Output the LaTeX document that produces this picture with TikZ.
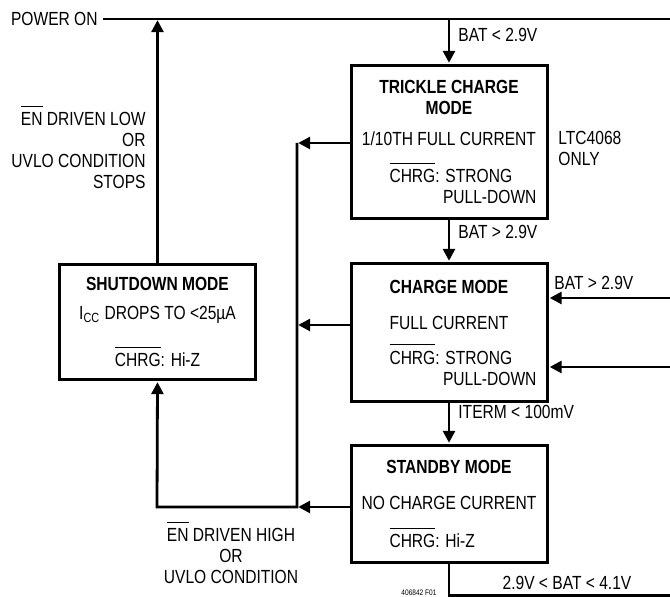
\documentclass[tikz,border=0pt]{standalone}
\usepackage{fontspec}
\setmainfont{Liberation Sans}[FakeStretch=0.82]
\usetikzlibrary{arrows.meta}
\newsavebox{\ovlbox}
\newcommand{\ovl}[1]{\leavevmode\sbox{\ovlbox}{#1}\rlap{\rule[\dimexpr\ht\ovlbox+2.8pt\relax]{\wd\ovlbox}{0.5pt}}\usebox{\ovlbox}}
\newcommand{\chrg}{\ovl{CHRG}}
\newcommand{\chrgline}[2]{\hspace*{14pt}\parbox[t]{73.5pt}{\raggedright\chrg: #1\\\hspace*{\fill}#2}}
\begin{document}
\begin{tikzpicture}[x=.5pt,y=.5pt,line width=1.4pt,font=\fontsize{9.5}{10.5}\selectfont,
  modebox/.style={draw,line width=1.5pt,inner sep=0pt,align=center,minimum width=98pt},
  lbl/.style={inner sep=0pt},
  arr/.style={-{Triangle[length=6pt,width=6pt]},shorten >=.6pt}]
\useasboundingbox (0,0) rectangle (670,597);
% mode boxes
\node[modebox,minimum height=76.5pt] (trickle) at (449,455) {\textbf{TRICKLE CHARGE}\\\textbf{MODE}\\[5pt]1/10TH FULL CURRENT\\[8pt]\chrgline{STRONG}{PULL-DOWN}};
\node[modebox,minimum height=69pt] (charge) at (449,264.5) {\textbf{CHARGE MODE}\\[7.5pt]FULL CURRENT\\[7pt]\chrgline{STRONG}{PULL-DOWN}};
\node[modebox,minimum height=58.5pt] (standby) at (449,93) {\textbf{STANDBY MODE}\\[7.5pt]NO CHARGE CURRENT\\[8.5pt]\hspace*{14pt}\parbox[t]{73.5pt}{\chrg: Hi-Z}};
\node[modebox,minimum height=57.5pt] (shut) at (157.5,275) {\textbf{SHUTDOWN MODE}\\[4pt]I\textsubscript{CC} DROPS TO <25µA\\[11pt]\chrg: Hi-Z};
% points on the wires
\coordinate (pL) at (103,578);\coordinate (pR) at (670,578);
\coordinate (bT) at (297,454);\coordinate (bM) at (297,272);\coordinate (bB) at (297,90);\coordinate (bC) at (157,90);
\coordinate (bot) at (450,1.5);\coordinate (botR) at (670,1.5);
\coordinate (rA) at (670,299);\coordinate (rB) at (670,230);
\draw (pL)--(pR);
\draw[arr] (trickle.north |- pR)--(trickle.north);
\draw[arr] (trickle.south)--(charge.north);
\draw[arr] (charge.south)--(standby.north);
\draw (standby.south)--(standby.south |- bot)--(botR);
\draw[arr] (trickle.west |- bT)--(bT);
\draw[arr] (charge.west |- bM)--(bM);
\draw[arr] (standby.west |- bB)--(bB);
\draw[arr] (bT)--(bB)--(bC)--(shut.south);
\draw[arr] (shut.north)--(shut.north |- pL);
\draw[arr] (rA)--(charge.east |- rA);
\draw[arr] (rB)--(charge.east |- rB);
% labels
\node[lbl,anchor=east] (pwr) at (99,578) {POWER ON};
\node[lbl,anchor=west] (lowbat) at (457,562) {BAT < 2.9V};
\node[lbl,anchor=west] (okbat) at (457,365) {BAT > 2.9V};
\node[lbl,anchor=west] (iterm) at (457,185) {ITERM < 100mV};
\node[lbl] (recharge) at (567,14) {2.9V < BAT < 4.1V};
\node[lbl,anchor=west] (okbat2) at (553,314) {BAT > 2.9V};
\node[lbl,anchor=west,align=left] (only) at (557,449) {LTC4068\\ONLY};
\node[lbl,anchor=east,align=right] (enlow) at (147,450) {\ovl{EN} DRIVEN LOW\\OR\\UVLO CONDITION\\STOPS};
\node[lbl,align=center] (enhigh) at (231,44) {\ovl{EN} DRIVEN HIGH\\OR\\UVLO CONDITION};
\node[lbl,font=\fontsize{4}{4}\selectfont] (fig) at (419,4) {406842 F01};
\end{tikzpicture}
\end{document}
